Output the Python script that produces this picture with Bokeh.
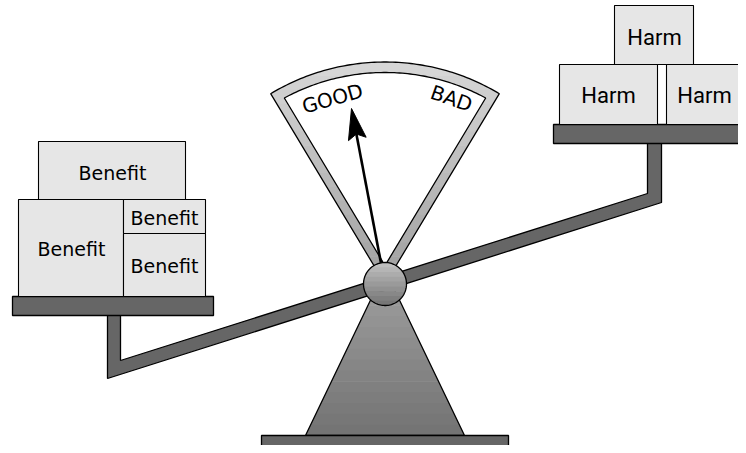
import numpy as np
from bokeh.plotting import figure
from bokeh.models import Range1d
from bokeh.embed import file_html
from bokeh.resources import INLINE
from bokeh.core.properties import value

# ---- content (text labels) ----
left_labels = ["Benefit", "Benefit", "Benefit", "Benefit"]
right_labels = ["Harm", "Harm", "Harm"]
gauge_labels = ["GOOD", "BAD"]

# box edges (left, right, top, bottom) in picture pixels
left_box_l = [38, 18, 123, 123]
left_box_r = [185, 123, 205, 205]
left_box_t = [141, 199, 199, 233]
left_box_b = [199, 296, 233, 296]

right_box_l = [614, 559, 666]
right_box_r = [693, 657, 760]
right_box_t = [5, 64, 64]
right_box_b = [64, 124, 124]

W, H = 738, 445
p = figure(width=W, height=H, x_range=Range1d(0, W), y_range=Range1d(H, 0),
           output_backend="svg", toolbar_location=None, min_border=0)
p.axis.visible = False
p.grid.visible = False
p.outline_line_color = None
p.background_fill_color = "white"
p.border_fill_color = "white"

DARK = "#666666"
BOX = "#e6e6e6"
OL = 1.3


def clip_half(pts, inside, cut):
    out = []
    n = len(pts)
    for i in range(n):
        cur, prev = pts[i], pts[i - 1]
        if inside(cur):
            if not inside(prev):
                out.append(cut(prev, cur))
            out.append(cur)
        elif inside(prev):
            out.append(cut(prev, cur))
    return out


def cut_y(c):
    def f(a, b):
        t = (c - a[1]) / (b[1] - a[1])
        return (a[0] + t * (b[0] - a[0]), c)
    return f


def band(xs, ys, y0, y1):
    pts = list(zip(xs, ys))
    pts = clip_half(pts, lambda q: q[1] >= y0, cut_y(y0))
    if not pts:
        return None
    pts = clip_half(pts, lambda q: q[1] <= y1, cut_y(y1))
    if len(pts) < 3:
        return None
    return [q[0] for q in pts], [q[1] for q in pts]


def hexc(v):
    v = int(round(v))
    return "#%02x%02x%02x" % (v, v, v)


def gradient_patch(xs, ys, g_top, g_bot, n=14):
    ymin, ymax = min(ys), max(ys)
    bx, by, cols = [], [], []
    edges = np.linspace(ymin, ymax, n + 1)
    for i in range(n):
        r = band(xs, ys, edges[i], edges[i + 1] + 0.6)
        if r is None:
            continue
        bx.append(r[0]); by.append(r[1])
        f = i / max(n - 1, 1)
        cols.append(hexc(g_top + (g_bot - g_top) * f))
    p.patches(bx, by, fill_color=cols, line_color=None)
    p.patch(list(xs), list(ys), fill_color=None, line_color="black", line_width=OL)


# pivot
cx, cy, pr = 384.5, 283.5, 21.5

# ---- gauge ----
half = np.radians(31)
R_out, border = 222, 9.5
phi = np.linspace(-half, half, 80)
gx = np.concatenate([[cx], cx + R_out * np.sin(phi)])
gy = np.concatenate([[cy], cy - R_out * np.cos(phi)])
gradient_patch(gx, gy, 214, 160, n=16)

d = border / np.sin(half)
R_in = R_out - border - 1
t = -d * np.cos(half) + np.sqrt(d * d * np.cos(half) ** 2 - d * d + R_in ** 2)
ex = t * np.sin(half)
ey = -(d + t * np.cos(half))
psi = np.arctan2(ex, -ey)
phi_i = np.linspace(-psi, psi, 80)
ix = np.concatenate([[cx], cx + R_in * np.sin(phi_i)])
iy = np.concatenate([[cy - d], cy - R_in * np.cos(phi_i)])
p.patch(list(ix), list(iy), fill_color="white", line_color="black", line_width=OL)

# gauge words
p.text(x=[332, 451], y=[98, 98], text=gauge_labels, angle=[0.276, -0.335],
       text_font=value("DejaVu Sans"), text_font_size="20px", text_color="black",
       text_align="center", text_baseline="middle")

# needle
tipx, tipy = 351, 108
u = np.array([tipx - cx, tipy - cy]); u = u / np.hypot(*u)
nv = np.array([-u[1], u[0]])
base_pt = np.array([tipx, tipy]) - 24 * u
p.line([cx, base_pt[0]], [cy, base_pt[1]], line_color="black", line_width=2.6)
tip = np.array([tipx, tipy])
h1 = tip - 31 * u + 9 * nv
h2 = tip - 26 * u
h3 = tip - 31 * u - 9 * nv
p.patch([tip[0], h1[0], h2[0], h3[0]], [tip[1], h1[1], h2[1], h3[1]],
        fill_color="black", line_color="black", line_width=1)

# ---- stand triangle ----
tx = [305, 464, 391, 378]
ty = [435, 435, 283, 283]
gradient_patch(tx, ty, 156, 116, n=14)

# ---- beam with hangers ----
bx = [107, 120, 120, 647, 647, 661, 661, 107]
by = [314, 314, 360, 193, 142, 142, 202, 378]
p.patch(bx, by, fill_color=DARK, line_color="black", line_width=OL)

# ---- pivot ball ----
a = np.linspace(0, 2 * np.pi, 120)
gradient_patch(cx + pr * np.cos(a), cy + pr * np.sin(a), 190, 118, n=9)

# ---- base plate ----
p.quad(left=[261], right=[508], top=[435], bottom=[451], fill_color=DARK,
       line_color="black", line_width=OL)

# ---- pans ----
p.quad(left=[12, 553], right=[213, 760], top=[296, 124], bottom=[315, 143],
       fill_color=DARK, line_color="black", line_width=OL)

# ---- boxes ----
p.quad(left=left_box_l, right=left_box_r, top=left_box_t, bottom=left_box_b,
       fill_color=BOX, line_color="black", line_width=1.1)
p.quad(left=right_box_l, right=right_box_r, top=right_box_t, bottom=right_box_b,
       fill_color=BOX, line_color="black", line_width=1.1)

lbx = [112, 71, 164, 164]
lby = [172, 248, 217, 265]
p.text(x=lbx, y=lby, text=left_labels, text_font=value("DejaVu Sans"),
       text_font_size="19px", text_color="black", text_align="center",
       text_baseline="middle")

rbx = [654, 608, 704]
rby = [37, 95, 95]
p.text(x=rbx, y=rby, text=right_labels, text_font=value("Roboto"),
       text_font_size="22px", text_color="black", text_align="center",
       text_baseline="middle")

open("out.html", "w").write(file_html(p, INLINE))
